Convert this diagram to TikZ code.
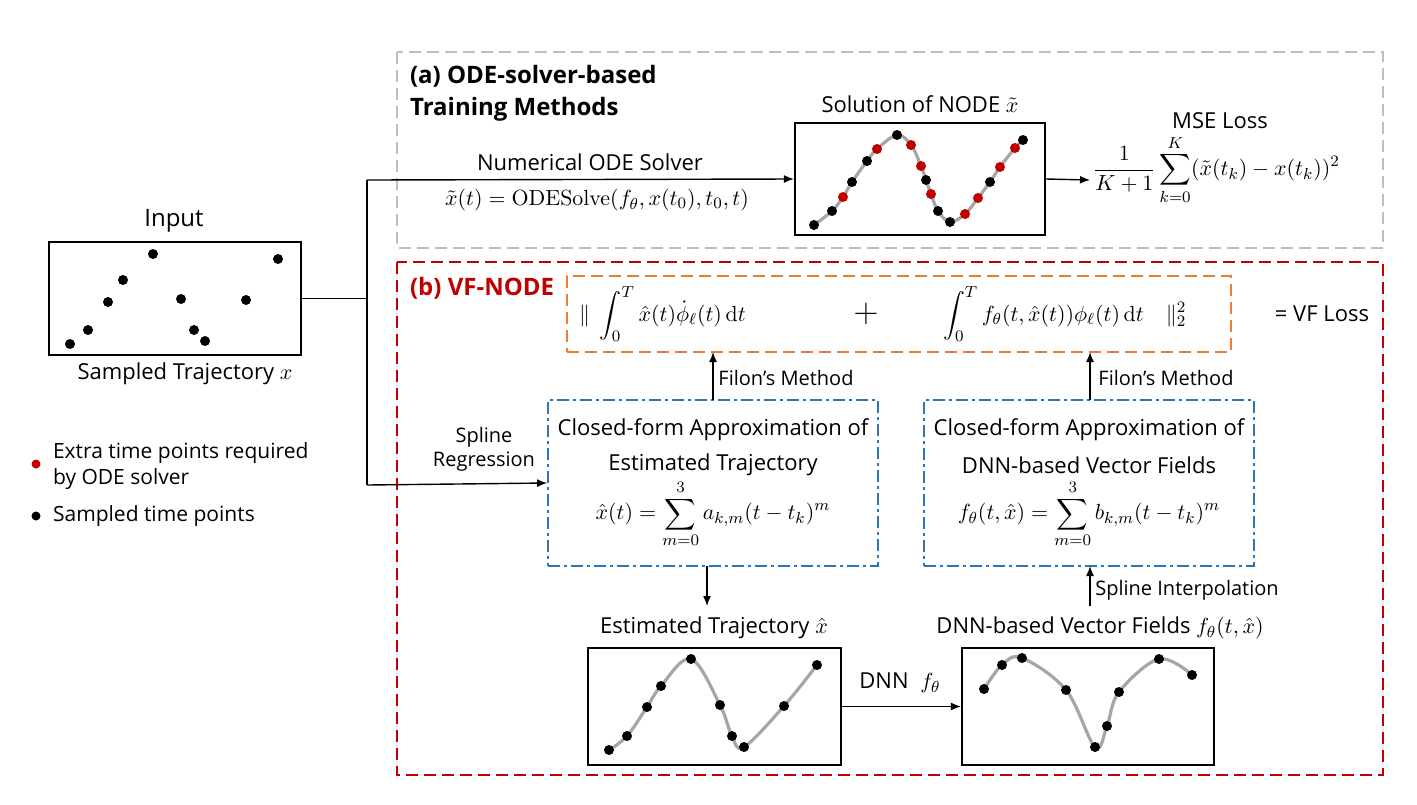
\documentclass[tikz,border=0pt]{standalone}
\usepackage{amsmath}
\usepackage[no-math]{fontspec}
\setmainfont{Open Sans}
\usetikzlibrary{arrows.meta}
\definecolor{dred}{RGB}{192,0,0}
\definecolor{lgray}{RGB}{191,191,191}
\definecolor{orng}{RGB}{237,125,49}
\definecolor{bl}{RGB}{46,117,182}
\begin{document}
\begin{tikzpicture}[x=0.5pt,y=-0.5pt,font=\fontsize{11}{13}\selectfont,
  plotbox/.style={draw,line width=1.1pt},
  bdot/.style={fill=black,circle,inner sep=0pt,minimum size=5pt},
  rdot/.style={fill=dred,circle,inner sep=0pt,minimum size=5pt},
  curve/.style={draw=gray!70,line width=1.6pt},
  arr/.style={-{Latex[length=5pt,width=4pt]},line width=0.7pt},
  ln/.style={line width=0.7pt},
  small/.style={font=\fontsize{10}{12}\selectfont},
  approx/.style={draw=bl,line width=0.9pt,dash pattern=on 6pt off 2pt on 1.5pt off 2pt}]
\useasboundingbox (0,0) rectangle (1417,804);
% big frames
\draw[lgray,line width=1.3pt,dash pattern=on 6pt off 3pt] (397,52) rectangle (1383,248);
\draw[dred,line width=1.3pt,dash pattern=on 6pt off 3pt] (397,262) rectangle (1383,775);
\node[anchor=west,font=\fontsize{12}{16}\selectfont\bfseries,align=left] (ta) at (403,93) {(a) ODE-solver-based\\Training Methods};
\node[anchor=west,font=\fontsize{12}{14}\selectfont\bfseries,text=dred] (tb) at (403,288) {(b) VF-NODE};
% input
\node[plotbox,minimum width=126pt,minimum height=56.5pt,inner sep=0pt] (in) at (175,298.5) {};
\node (inl) at (174,221) {\fontsize{12}{14}\selectfont Input};
\node (inc) at (185,374) {Sampled Trajectory $x$};
\foreach \p in {(70,344),(88,330),(108,302),(123,280),(153,254),(181,299),(194,330),(205,341),(246,300),(278,259)} \node[bdot] at \p {};
% top plot
\node[plotbox,minimum width=125pt,minimum height=56pt,inner sep=0pt] (sol) at (920,179) {};
\node (soll) at (920,104) {Solution of NODE $\tilde{x}$};
\draw[curve] plot[smooth,tension=0.6] coordinates {(814,225)(832,211)(843,197)(852,182)(867,161)(877,149)(897,135)(911,145)(921,166)(926,180)(931,194)(938,211)(950,222)(965,214)(978,198)(990,182)(1000,167)(1015,148)(1023,140)};
\foreach \p in {(814,225),(832,211),(852,182),(867,161),(897,135),(926,180),(938,211),(950,222),(990,182),(1023,140)} \node[bdot] at \p {};
\foreach \p in {(843,197),(877,149),(911,145),(921,166),(931,194),(965,214),(978,198),(1000,167),(1015,148)} \node[rdot] at \p {};
% connectors from input
\coordinate (j) at (367,297);
\draw[ln] (in.east) -- (in.east -| j);
\draw[ln] (367,180) -- (367,485);
\draw[arr] (367,180) -- (sol.west);
\node (num) at (590,162) {Numerical ODE Solver};
\node (ode) at (597,200) {$\tilde{x}(t)=\mathrm{ODESolve}(f_\theta,x(t_0),t_0,t)$};
% MSE
\coordinate (mse) at (1090,180);
\draw[arr] (sol.east) -- (mse);
\node (msel) at (1220,121) {MSE Loss};
\node[anchor=west] (msef) at (1086,170) {$\displaystyle\frac{1}{K+1}\sum_{k=0}^{K}(\tilde{x}(t_k)-x(t_k))^2$};
% VF loss
\node[draw=orng,line width=1.1pt,dash pattern=on 6pt off 3pt,minimum width=332pt,minimum height=38pt,inner sep=0pt] (vf) at (899,314) {};
\node[anchor=west] (vff) at (572,314) {$\|\;\displaystyle\int_0^T \hat{x}(t)\dot{\phi}_\ell(t)\,\mathrm{d}t$};
\node (plus) at (866,314) {\fontsize{18}{18}\selectfont $+$};
\node[anchor=west] (vfg) at (936,314) {$\displaystyle\int_0^T f_\theta(t,\hat{x}(t))\phi_\ell(t)\,\mathrm{d}t\quad\|_2^2$};
\node (vfl) at (1322,314) {= VF Loss};
% approximation boxes
\node[approx,minimum width=165pt,minimum height=83pt,inner sep=0pt] (ap1) at (713,483) {};
\node[approx,minimum width=165pt,minimum height=83pt,inner sep=0pt] (ap2) at (1089,483) {};
\node (a1a) at (713,430) {Closed-form Approximation of};
\node (a1b) at (713,465) {Estimated Trajectory};
\node (a1c) at (713,514) {$\displaystyle\hat{x}(t)=\sum_{m=0}^{3}a_{k,m}(t-t_k)^m$};
\node (a2a) at (1089,430) {Closed-form Approximation of};
\node (a2b) at (1089,465) {DNN-based Vector Fields};
\node (a2c) at (1089,514) {$\displaystyle f_\theta(t,\hat{x})=\sum_{m=0}^{3}b_{k,m}(t-t_k)^m$};
\draw[arr] (713,400) -- (713,352);
\draw[arr] (1090,400) -- (1090,352);
\node[small] (f1) at (786,378) {Filon's Method};
\node[small] (f2) at (1166,378) {Filon's Method};
\draw[arr] (367,485) -- (ap1.west);
\node[small,align=center] (spl) at (484,449) {Spline\\Regression};
% bottom plots
\node[plotbox,minimum width=126.5pt,minimum height=58.5pt,inner sep=0pt] (est) at (714.5,706.5) {};
\node[plotbox,minimum width=126pt,minimum height=58.5pt,inner sep=0pt] (dnn) at (1088,706.5) {};
\node (estl) at (714,628) {Estimated Trajectory $\hat{x}$};
\node (dnnl) at (1100,628) {DNN-based Vector Fields $f_\theta(t,\hat{x})$};
\draw[arr] (707,566) -- (707,606);
\draw[arr] (1090,606) -- (1090,566);
\node[small] (si) at (1187,590) {Spline Interpolation};
\draw[arr] (est.east) -- (dnn.west);
\node (dl) at (900,683) {DNN\; $f_\theta$};
\draw[curve] plot[smooth,tension=0.6] coordinates {(609,750)(627,736)(647,707)(661,686)(691,659)(720,705)(732,736)(744,747)(784,706)(817,665)};
\foreach \p in {(609,750),(627,736),(647,707),(661,686),(691,659),(720,705),(732,736),(744,747),(784,706),(817,665)} \node[bdot] at \p {};
\draw[curve] plot[smooth,tension=0.6] coordinates {(984,689)(1002,665)(1022,658)(1066,690)(1095,747)(1107,726)(1119,692)(1159,659)(1192,675)};
\foreach \p in {(984,689),(1002,665),(1022,658),(1066,690),(1095,747),(1107,726),(1119,692),(1159,659),(1192,675)} \node[bdot] at \p {};
% legend
\node[rdot,minimum size=4.5pt] (lr) at (36,464) {};
\node[anchor=west,align=left,font=\fontsize{10.5}{13}\selectfont] (lrt) at (46,466) {Extra time points required\\by ODE solver};
\node[bdot,minimum size=4.5pt] (lb) at (36,516) {};
\node[anchor=west,font=\fontsize{10.5}{13}\selectfont] (lbt) at (46,516) {Sampled time points};
\end{tikzpicture}
\end{document}
